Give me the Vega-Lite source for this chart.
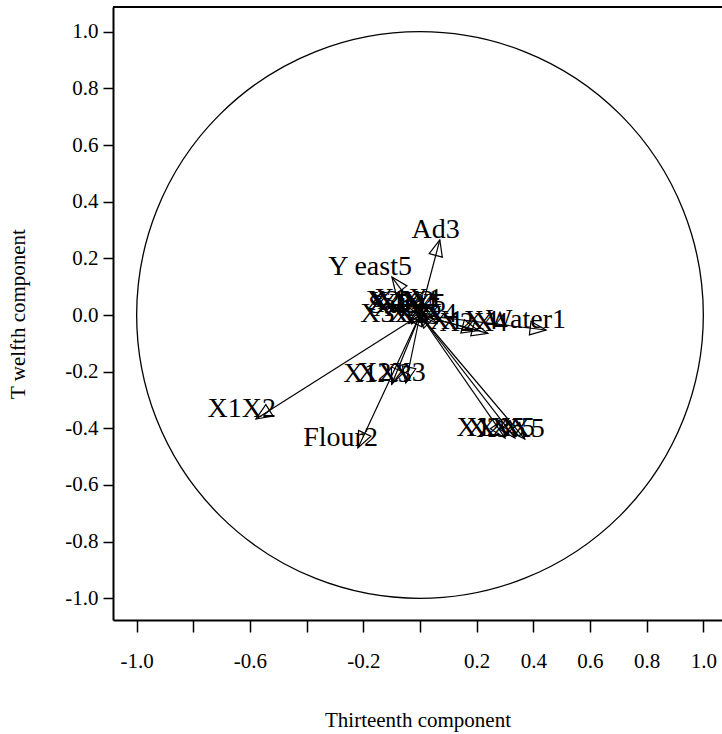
{
  "$schema": "https://vega.github.io/schema/vega-lite/v6.json",
  "width": 609,
  "height": 613,
  "autosize": {"type": "none"},
  "padding": {"left": 113, "top": 7, "right": 0, "bottom": 114},
  "background": "white",
  "config": {"view": {"stroke": null}, "font": "Liberation Serif"},
  "data": {
    "values": [
      {"label": "Water1", "x": 0.445, "y": -0.053},
      {"label": "Flour2", "x": -0.219, "y": -0.469},
      {"label": "Ad3", "x": 0.07, "y": 0.265},
      {"label": "Salt4", "x": -0.05, "y": 0.0},
      {"label": "Y east5", "x": -0.099, "y": 0.134},
      {"label": "X1X1", "x": 0.01, "y": 0.02},
      {"label": "X1X2", "x": -0.579, "y": -0.367},
      {"label": "X1X3", "x": -0.1, "y": -0.245},
      {"label": "X1X4", "x": 0.205, "y": -0.055},
      {"label": "X1X5", "x": 0.3, "y": -0.434},
      {"label": "X2X2", "x": -0.02, "y": 0.015},
      {"label": "X2X3", "x": -0.05, "y": -0.24},
      {"label": "X2X4", "x": 0.24, "y": -0.065},
      {"label": "X2X5", "x": 0.335, "y": -0.434},
      {"label": "X3X3", "x": -0.04, "y": -0.03},
      {"label": "X3X4", "x": 0.06, "y": -0.03},
      {"label": "X3X5", "x": 0.37, "y": -0.438},
      {"label": "X4X4", "x": -0.01, "y": 0.01},
      {"label": "X4X5", "x": 0.005, "y": -0.01},
      {"label": "X5X5", "x": 0.02, "y": 0.005}
    ]
  },
  "layer": [
    {
      "data": {"values": [{"x": 0, "y": 0}]},
      "mark": {"type": "point", "shape": "circle", "size": 321111, "filled": false, "stroke": "black", "strokeWidth": 1.3, "opacity": 1},
      "encoding": {
        "x": {
          "field": "x", "type": "quantitative",
          "scale": {"domain": [-1.0835, 1.0659], "nice": false, "zero": false},
          "axis": {
            "values": [-1, -0.8, -0.6, -0.4, -0.2, 0, 0.2, 0.4, 0.6, 0.8, 1],
            "labelExpr": "(abs(datum.value+0.8)<0.01 || abs(datum.value+0.4)<0.01 || abs(datum.value)<0.01) ? '' : ((datum.value<0?'-':'') + format(abs(datum.value),'.1f'))",
            "grid": false,
            "domainColor": "black", "domainWidth": 2,
            "tickColor": "black", "tickSize": 12, "tickWidth": 1.5,
            "labelFont": "Liberation Serif", "labelFontSize": 21, "labelColor": "black", "labelPadding": 18, "labelFlush": false,
            "title": "Thirteenth component", "titleFont": "Liberation Serif", "titleFontSize": 21, "titleFontWeight": "normal", "titleColor": "black", "titlePadding": 38
          }
        },
        "y": {
          "field": "y", "type": "quantitative",
          "scale": {"domain": [-1.0765, 1.0871], "nice": false, "zero": false},
          "axis": {
            "values": [-1, -0.8, -0.6, -0.4, -0.2, 0, 0.2, 0.4, 0.6, 0.8, 1],
            "labelExpr": "(datum.value<-0.001?'-':'') + format(abs(datum.value),'.1f')",
            "grid": false,
            "domainColor": "black", "domainWidth": 2,
            "tickColor": "black", "tickSize": 10, "tickWidth": 1.5,
            "labelFont": "Liberation Serif", "labelFontSize": 21, "labelColor": "black", "labelPadding": 5, "labelFlush": false,
            "title": "T welfth component", "titleFont": "Liberation Serif", "titleFontSize": 21, "titleFontWeight": "normal", "titleColor": "black", "titlePadding": 36
          }
        }
      }
    },
    {
      "data": {"values": [{"y": 1.0871}]},
      "mark": {"type": "rule", "color": "black", "strokeWidth": 2},
      "encoding": {"y": {"field": "y", "type": "quantitative"}}
    },
    {
      "mark": {"type": "rule", "color": "black", "strokeWidth": 1.2},
      "encoding": {
        "x": {"field": "x", "type": "quantitative"},
        "y": {"field": "y", "type": "quantitative"},
        "x2": {"datum": 0},
        "y2": {"datum": 0}
      }
    },
    {
      "transform": [{"calculate": "(atan2(datum.x, datum.y)*180/PI + 360) % 360", "as": "ang"}],
      "mark": {"type": "point", "shape": "M0,0L-0.85,2L0.85,2Z", "size": 256, "filled": false, "stroke": "black", "strokeWidth": 1.2, "opacity": 1},
      "encoding": {
        "x": {"field": "x", "type": "quantitative"},
        "y": {"field": "y", "type": "quantitative"},
        "angle": {"field": "ang", "type": "quantitative", "scale": {"domain": [0, 360], "range": [0, 360]}}
      }
    },
    {
      "mark": {"type": "text", "align": "right", "baseline": "middle", "dx": 20, "dy": -10, "fontSize": 28, "font": "Liberation Serif", "color": "black"},
      "encoding": {
        "x": {"field": "x", "type": "quantitative"},
        "y": {"field": "y", "type": "quantitative"},
        "text": {"field": "label"}
      }
    }
  ]
}
